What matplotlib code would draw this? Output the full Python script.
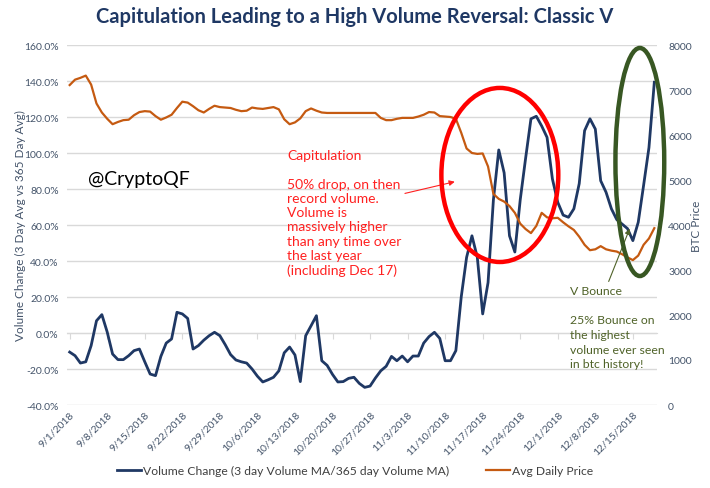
import matplotlib
matplotlib.use("Agg")
import matplotlib.pyplot as plt
from matplotlib.patches import Ellipse
import pandas as pd

plt.rcParams["font.family"] = ["Lato", "DejaVu Sans"]

dates = pd.date_range("2018-09-01", "2018-12-19", freq="D")

# volume change, 3 day MA vs 365 day MA (%)
volume_change = [
    -10.6, -12.6, -16.7, -16.0, -7.0, 6.8, 10.2, 0.5, -11.7, -14.8,
    -14.8, -12.6, -9.8, -8.9, -16.0, -22.8, -23.7, -13.0, -5.6, -3.3,
    11.5, 10.6, 8.1, -8.9, -7.0, -4.0, -1.5, 0.4, -1.5, -6.5,
    -12.0, -15.0, -16.0, -16.7, -20.0, -24.0, -27.2, -26.0, -24.6, -21.0,
    -11.0, -7.8, -12.2, -27.0, -1.5, 4.0, 9.6, -15.4, -18.0, -23.0,
    -27.2, -27.0, -25.2, -24.6, -28.0, -30.2, -29.5, -25.0, -21.0, -18.5,
    -13.0, -15.4, -12.8, -16.0, -12.8, -12.8, -5.6, -2.0, 0.4, -3.0,
    -15.4, -15.4, -9.8, 20.0, 42.0, 54.0, 42.0, 10.6, 28.0, 74.0,
    101.7, 89.0, 54.0, 45.0, 74.0, 97.0, 119.0, 120.4, 115.0, 108.7,
    85.6, 72.6, 65.5, 64.3, 69.0, 83.0, 112.4, 119.0, 113.3, 84.6,
    78.2, 69.0, 63.0, 60.5, 58.0, 51.3, 61.5, 82.0, 103.0, 139.3,
]

# average daily BTC price (USD)
avg_price = [
    7110, 7230, 7270, 7320, 7120, 6700, 6500, 6360, 6240, 6290,
    6330, 6340, 6440, 6510, 6530, 6520, 6420, 6340, 6390, 6450,
    6600, 6740, 6720, 6640, 6550, 6500, 6580, 6650, 6620, 6610,
    6600, 6560, 6530, 6540, 6610, 6590, 6580, 6600, 6620, 6570,
    6350, 6240, 6280, 6370, 6530, 6590, 6540, 6500, 6490, 6490,
    6490, 6490, 6490, 6490, 6490, 6490, 6490, 6490, 6380, 6330,
    6330, 6360, 6380, 6380, 6380, 6410, 6450, 6510, 6500, 6420,
    6410, 6400, 6360, 6050, 5700, 5600, 5580, 5590, 5300, 4690,
    4580, 4520, 4420, 4270, 4030, 3910, 3820, 3980, 4270, 4170,
    4150, 4160, 4060, 3970, 3890, 3740, 3560, 3440, 3460, 3530,
    3460, 3430, 3410, 3350, 3280, 3220, 3320, 3560, 3700, 3930,
]

left_ticks = [-40, -20, 0, 20, 40, 60, 80, 100, 120, 140, 160]
right_ticks = [0, 1000, 2000, 3000, 4000, 5000, 6000, 7000, 8000]

NAVY = "#1F3864"
ORANGE = "#C55A11"
LABEL = "#44546A"
GRID = "#D9D9D9"
RED = "#FF2020"
OLIVE = "#4F6228"

x = list(range(len(dates)))

fig = plt.figure(figsize=(7.10, 4.89), dpi=100)
ax = fig.add_axes([67 / 710, 1 - 406 / 489, 590 / 710, 360 / 489])
ax2 = ax.twinx()

ax.plot(x, volume_change, color=NAVY, lw=2.0, zorder=3,
        label="Volume Change (3 day Volume MA/365 day Volume MA)")
ax2.plot(x, avg_price, color=ORANGE, lw=1.6, zorder=3, label="Avg Daily Price")

ax.set_xlim(-0.5, len(x) - 0.5)
ax.set_ylim(-40, 160)
ax2.set_ylim(0, 8000)
ax.set_yticks(left_ticks)
ax.set_yticklabels([f"{v:.1f}%" for v in left_ticks])
ax2.set_yticks(right_ticks)
ax.yaxis.grid(True, color=GRID, lw=1.0)
ax.set_axisbelow(True)

for s in ax.spines.values():
    s.set_visible(False)
for s in ax2.spines.values():
    s.set_visible(False)
# horizontal axis crosses at 0%
ax.spines["top"].set_visible(True)
ax.spines["top"].set_position(("data", 0))
ax.spines["top"].set_color(GRID)
ax.tick_params(axis="x", bottom=False, top=True, labeltop=False, labelbottom=True,
               direction="in", length=4, color=GRID, labelsize=7.5,
               labelcolor=LABEL, pad=3, labelrotation=45)
ax.tick_params(axis="y", length=0, labelsize=7.5, labelcolor=LABEL, pad=6)
ax2.tick_params(axis="y", length=0, labelsize=7.5, labelcolor=LABEL, pad=8)

wk = x[::7]
ax.set_xticks(wk)
ax.set_xticklabels([f"{dates[i].month}/{dates[i].day}/{dates[i].year}" for i in wk])
for t in ax.get_xticklabels():
    t.set_rotation(45)
    t.set_ha("right")
    t.set_rotation_mode("anchor")

ax.set_ylabel("Volume Change (3 Day Avg vs 365 Day Avg)", color=LABEL, fontsize=8.5)
ax.yaxis.set_label_coords(-0.07, 0.5)
ax2.set_ylabel("BTC Price", color=LABEL, fontsize=8.5)
ax2.yaxis.set_label_coords(1.057, 0.5)

fig.text(0.5, 0.965, "Capitulation Leading to a High Volume Reversal: Classic V",
         ha="center", va="center", fontsize=14.5, fontweight="bold", color=NAVY)

# annotations (drawn on top of both series)
tr = ax.transData
ax2.text(3.5, 86, "@CryptoQF", transform=tr, fontsize=14, color="black", va="center")

ax2.text(40.6, 102, "Capitulation\n\n50% drop, on then\nrecord volume.\nVolume is\n"
         "massively higher\nthan any time over\nthe last year\n(including Dec 17)",
         transform=tr, fontsize=10, color=RED, va="top", ha="left", linespacing=1.22)
ax2.annotate("", xy=(72.3, 84.4), xytext=(62.0, 77.2), xycoords=tr, textcoords=tr,
             arrowprops=dict(arrowstyle="-|>", color=RED, lw=0.8, mutation_scale=8))
ax2.add_patch(Ellipse((80.2, 87.8), 21.8, 96.7, transform=tr, fill=False,
                      ec="#FF0000", lw=3.2, zorder=5, clip_on=False))

ax2.text(93.3, 26.5, "V Bounce\n\n25% Bounce on\nthe highest\nvolume ever seen\nin btc history!",
         transform=tr, fontsize=8.8, color=OLIVE, va="top", ha="left", linespacing=1.4)
ax2.annotate("", xy=(104.6, 59.4), xytext=(100.3, 27.2), xycoords=tr, textcoords=tr,
             arrowprops=dict(arrowstyle="-|>", color=OLIVE, lw=0.8, mutation_scale=8))
ax2.add_patch(Ellipse((106.3, 95.0), 9.1, 126.7, transform=tr, fill=False,
                      ec="#385723", lw=3.2, zorder=5, clip_on=False))

h1, l1 = ax.get_legend_handles_labels()
h2, l2 = ax2.get_legend_handles_labels()
fig.legend(h1 + h2, l1 + l2, loc="center", bbox_to_anchor=(0.5, 0.035), ncol=2,
           frameon=False, fontsize=8.7, labelcolor="#404040", handlelength=2.0,
           handletextpad=0.2, columnspacing=3.0)

fig.savefig("out.png", dpi=100)
